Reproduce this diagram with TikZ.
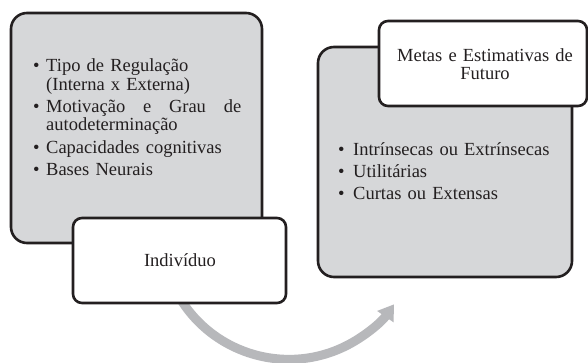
\documentclass[tikz,border=0pt]{standalone}
\usepackage{fontspec}
\setmainfont{Liberation Serif}
\usetikzlibrary{arrows.meta,backgrounds}
\definecolor{boxgray}{RGB}{214,215,217}
\definecolor{edgedark}{RGB}{35,31,32}
\definecolor{arrowgray}{RGB}{183,184,187}
\newcommand{\bitem}[2]{\hangindent=#1\hangafter=1\noindent\makebox[#1][l]{•}#2\par}
\tikzset{
  graybox/.style={draw=edgedark, line width=2.6pt, fill=boxgray, rounded corners=16pt, inner sep=0pt},
  whitebox/.style={draw=edgedark, line width=2.6pt, fill=white, rounded corners=9pt, inner sep=0pt},
  txt/.style={inner sep=0pt, text=edgedark},
  bigarrow/.style={draw=arrowgray, line width=9pt, -{Triangle[length=15pt,width=19pt]}}
}
\begin{document}
\begin{tikzpicture}[x=1pt,y=1pt]
\useasboundingbox (0,0) rectangle (588,363);
% left group
\node[graybox, minimum width=251pt, minimum height=230pt] (leftbox) at (136.5,235) {};
\node[txt, anchor=base west, text width=210pt, align=left,
      font=\fontsize{18.5}{18.3}\selectfont] (lefttext) at (33,291)
  {\setlength{\parskip}{4pt}%
   \bitem{13pt}{Tipo de Regulação\hfill\break(Interna x Externa)}%
   \bitem{13pt}{\hbox to 195pt{Motivação\hfill e\hfill Grau\hfill de}\hfill\break autodeterminação}%
   \bitem{13pt}{Capacidades cognitivas}%
   \bitem{13pt}{Bases Neurais}};
\node[whitebox, minimum width=213pt, minimum height=85pt] (ind) at (179.5,102.5) {};
\node[txt, anchor=base, font=\fontsize{18.5}{18}\selectfont] (indtext) at (180,96) {Indivíduo};
% right group
\node[graybox, minimum width=254pt, minimum height=230pt] (rightbox) at (445,201) {};
\node[txt, anchor=base west, text width=230pt, align=left,
      font=\fontsize{18.5}{18}\selectfont] (righttext) at (338,207)
  {\setlength{\parskip}{4pt}%
   \bitem{15pt}{Intrínsecas ou Extrínsecas}%
   \bitem{15pt}{Utilitárias}%
   \bitem{15pt}{Curtas ou Extensas}};
\node[whitebox, minimum width=208pt, minimum height=85pt] (metas) at (483,299.5) {};
\node[txt, anchor=base, text width=200pt, align=center,
      font=\fontsize{18.5}{17.5}\selectfont] (metastext) at (485,301)
  {Metas e Estimativas de\\Futuro};
% arrow behind
\begin{pgfonlayer}{background}
\fill[white] (0,0) rectangle (588,363);
\draw[bigarrow] ([shift={(-3.3,12.7)}]ind.south) arc[start angle=208, end angle=325.3, radius=127.7];
\end{pgfonlayer}
\end{tikzpicture}
\end{document}
